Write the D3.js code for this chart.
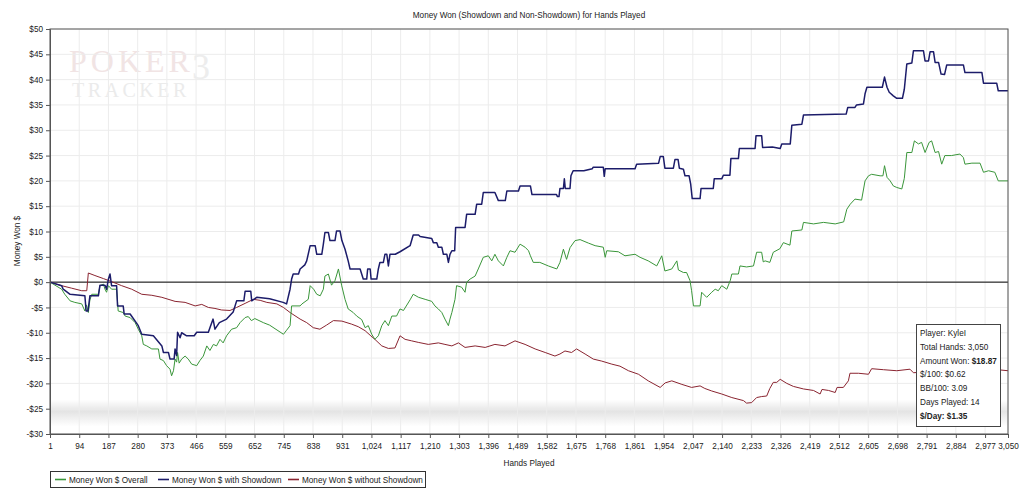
<!DOCTYPE html>
<html>
<head>
<meta charset="utf-8">
<title>Money Won (Showdown and Non-Showdown) for Hands Played</title>
<script src="https://cdn.jsdelivr.net/npm/d3@7"></script>
<style>
  html, body { margin: 0; padding: 0; background: #fff; }
  svg { display: block; font-family: "Liberation Sans", Arial, sans-serif; }
  .axis path, .axis line { stroke: #555; }
  .axis text { font-size: 8.2px; fill: #222; }
</style>
</head>
<body>
<div id="chart"></div>
<script>
// ---- data ----
const xTicks = [1, 94, 187, 280, 373, 466, 559, 652, 745, 838, 931, 1024, 1117, 1210, 1303,
  1396, 1489, 1582, 1675, 1768, 1861, 1954, 2047, 2140, 2233, 2326, 2419, 2512, 2605, 2698,
  2791, 2884, 2977, 3050];
const yTicks = [-30, -25, -20, -15, -10, -5, 0, 5, 10, 15, 20, 25, 30, 35, 40, 45, 50];

const seriesNames = ['Money Won $ Overall', 'Money Won $ with Showdown', 'Money Won $ without Showdown'];

// [hand, dollars]
const overall = [
  [1,0],[38,-1.4],[48,-2.4],[65,-3.7],[80,-4],[102,-4.3],[112,-5.7],[117,-4.5],[123,-6],[128,-3.5],
  [134,-2.4],[155,-2.4],[160,-0.7],[171,-0.4],[176,-1.4],[181,-2],[187,-0.7],[197,-1.4],[213,-1.4],
  [218,-5.7],[234,-6],[240,-6.7],[256,-7],[272,-8],[282,-9.3],[293,-10.6],[298,-12.3],[309,-12.6],
  [325,-13.2],[346,-13.2],[351,-15.2],[362,-15.5],[372,-16.5],[383,-17.2],[388,-18.5],[394,-17.5],
  [399,-15.2],[404,-15.8],[407,-13.9],[412,-16],[420,-15.2],[431,-14.6],[441,-15.2],[452,-16.2],
  [468,-16.5],[478,-15.5],[489,-14.6],[500,-12.6],[510,-13.5],[521,-12.3],[531,-12.6],[542,-11.3],
  [552,-12],[563,-10.6],[579,-9.3],[595,-9],[606,-8],[622,-7],[632,-6.8],[642,-7.6],[653,-7.2],
  [680,-8],[700,-8.5],[744,-10.3],[754,-9.5],[765,-8.6],[770,-4.7],[797,-4.7],[803,-4.3],[823,-3.4],
  [829,-0.7],[840,-1.4],[850,-2.4],[861,-2.7],[871,-1.4],[876,1.2],[887,1.6],[897,-0.6],[908,0.3],
  [919,2.6],[929,-0.6],[940,-3.4],[950,-5.3],[966,-6],[977,-6.7],[993,-7.4],[1004,-9],[1014,-8.6],
  [1025,-10.3],[1035,-11.3],[1046,-10.6],[1057,-8.6],[1067,-7.6],[1078,-8.6],[1089,-6.7],[1104,-6.7],
  [1115,-5.3],[1126,-5.6],[1147,-3.5],[1157,-2.4],[1174,-3],[1195,-3.4],[1216,-3.8],[1226,-4.7],
  [1237,-5.3],[1248,-6],[1258,-7.3],[1269,-8.6],[1274,-7.3],[1280,-6],[1290,-3.4],[1295,-0.7],
  [1311,-1],[1322,-2],[1327,0],[1338,0.6],[1354,1.2],[1364,2.6],[1380,4.9],[1396,5.2],[1407,4.2],
  [1417,5.5],[1428,4.2],[1444,3.2],[1455,4.9],[1465,6.2],[1481,5.9],[1497,7.5],[1513,6.9],[1524,6.2],
  [1530,5.2],[1539,3.9],[1560,3.9],[1587,3.2],[1614,2.6],[1624,3.9],[1635,6.5],[1645,4.5],[1656,6.8],
  [1672,8.2],[1688,8.4],[1715,7.7],[1736,7.2],[1762,6.9],[1768,4.9],[1773,6.2],[1810,6],[1831,5.2],
  [1863,5.5],[1879,4.9],[1905,4.2],[1932,3.2],[1948,5.2],[1958,2.2],[1980,2.6],[1996,4.2],[2001,2.4],
  [2017,1.9],[2027,1.9],[2038,0.3],[2043,-1.7],[2049,-4.7],[2070,-4.7],[2075,-2],[2091,-3],[2107,-2],
  [2118,-1.4],[2128,-1.7],[2139,-0.7],[2155,-1.4],[2166,0.3],[2171,1.6],[2192,1.6],[2197,3.2],
  [2218,3],[2240,3.2],[2250,5.9],[2266,5.9],[2271,4],[2277,4.2],[2292,3.9],[2303,5.9],[2324,6.6],
  [2335,7.8],[2356,7.3],[2362,10.1],[2394,10.3],[2399,11.8],[2431,11.5],[2463,11.8],[2500,11.5],
  [2527,11.9],[2537,14.4],[2548,15.4],[2563,16.4],[2584,16.2],[2595,20],[2606,21],[2616,21.3],
  [2643,21],[2652,21],[2657,23],[2665,20.7],[2675,20],[2685,19],[2696,18.7],[2712,18.4],[2720,20.5],
  [2728,25.6],[2744,25.6],[2752,27.9],[2765,27.3],[2775,27.6],[2786,25.6],[2799,27.6],[2807,27.9],
  [2818,25.6],[2829,25.8],[2839,23.3],[2849,25],[2870,25],[2897,25.3],[2908,24.6],[2913,23.3],
  [2935,23.5],[2961,23.5],[2972,21.7],[2988,22],[3008,21.7],[3019,20],[3050,20]
];

const withShowdown = [
  [1,0],[38,-0.7],[43,-1.4],[65,-2.4],[112,-2.7],[116,-5.7],[122,-5.7],[128,-2.7],[155,-2.7],
  [160,-0.6],[176,-0.6],[181,-1.4],[187,0.6],[192,1.6],[197,-0.7],[213,-0.7],[216,-4.7],[234,-4.7],
  [237,-6.3],[256,-6.3],[282,-8.6],[293,-10.3],[330,-10.6],[357,-12.6],[362,-13.9],[378,-13.9],
  [383,-15.2],[396,-15.2],[399,-13.2],[404,-14.5],[407,-9.9],[415,-11],[420,-10],[436,-10.6],
  [460,-10.6],[468,-9.9],[505,-9.9],[510,-9],[520,-7.3],[526,-9.3],[540,-8],[563,-7.3],[584,-5.9],
  [595,-3.7],[618,-3.7],[622,-1.8],[640,-1.8],[643,-3.7],[659,-3],[700,-3.3],[743,-4],[754,-4.3],
  [765,-1.4],[770,0.6],[775,1.6],[792,1.6],[797,2.6],[812,3.4],[818,4.2],[829,7.2],[845,7.2],
  [850,5.5],[866,5.5],[871,7.5],[876,9.8],[887,9.8],[892,8.2],[908,8.2],[913,10.1],[924,10.1],
  [930,8.2],[940,6.5],[950,4.2],[956,2.6],[988,2.6],[993,1.6],[998,0.6],[1009,0.6],[1012,2.6],
  [1020,2.6],[1023,0.6],[1041,0.6],[1046,2.6],[1051,3.9],[1062,3.9],[1067,5.5],[1073,5.5],[1078,3.2],
  [1083,5.5],[1100,5.5],[1115,6],[1147,7.2],[1157,9.3],[1174,9.3],[1179,9],[1216,8.6],[1221,7.8],
  [1232,7.8],[1237,6.9],[1248,6.9],[1253,5.5],[1264,5.5],[1269,3.9],[1274,5.5],[1280,6.2],[1289,6.2],
  [1292,10.8],[1322,10.8],[1327,13.4],[1354,13.4],[1359,15.4],[1375,15.4],[1380,17.7],[1417,17.7],
  [1428,16.1],[1450,16.1],[1455,18],[1492,18],[1497,19],[1530,19],[1535,17.3],[1613,17.3],[1616,16.9],
  [1621,16.9],[1624,18.5],[1635,18.5],[1638,20.4],[1641,18.5],[1656,18.5],[1659,21],[1666,22],
  [1700,22],[1727,22.4],[1730,22.7],[1762,22.7],[1765,20.9],[1768,22.4],[1863,22.4],[1868,23.3],
  [1938,23.5],[1943,24.8],[1953,24.8],[1958,22.5],[1985,22.5],[1990,24.2],[2000,24.2],[2004,22.5],
  [2017,22.3],[2022,21],[2035,21],[2040,19.4],[2045,16.5],[2070,16.5],[2073,18.5],[2112,18.5],
  [2115,20.4],[2139,20.4],[2144,21.1],[2165,21.1],[2168,24.4],[2192,24.4],[2195,26.4],[2245,26.4],
  [2248,28.9],[2266,28.9],[2269,26.6],[2300,26.7],[2325,26.4],[2330,27.3],[2357,27.3],[2362,31],
  [2394,31.2],[2399,33],[2535,33.2],[2540,34.5],[2563,34.5],[2568,35],[2590,35.2],[2595,37.2],
  [2601,38.5],[2650,38.5],[2657,40.5],[2665,38.5],[2672,37.5],[2685,36.8],[2696,36.3],[2714,36.3],
  [2720,38.1],[2728,43.1],[2744,43.3],[2749,45.7],[2781,45.7],[2786,43.7],[2797,43.7],[2802,45.5],
  [2813,45.5],[2818,43.4],[2829,43.4],[2837,41.1],[2848,41],[2855,42.9],[2908,42.9],[2913,41.4],
  [2967,41.4],[2972,39.3],[3014,39.3],[3019,37.8],[3050,37.8]
];

const withoutShowdown = [
  [1,0],[38,-0.7],[70,-1.2],[102,-1.7],[118,-1.7],[123,1.8],[144,1.3],[171,0.7],[197,0.1],[229,-0.7],
  [261,-1.4],[293,-2.4],[325,-2.6],[357,-3],[399,-3.8],[431,-4],[463,-4.7],[484,-4.4],[505,-5],
  [526,-5.2],[547,-5.5],[574,-5.6],[595,-5],[622,-4.2],[648,-3.4],[670,-3.6],[691,-4],[723,-4.3],
  [744,-5],[765,-6],[797,-7.3],[818,-8],[839,-9],[860,-9.3],[881,-8.5],[903,-7.6],[930,-7.7],
  [961,-8.3],[982,-8.8],[1004,-9.6],[1020,-10.5],[1035,-11.3],[1057,-12.6],[1078,-13.1],[1099,-13],
  [1115,-10.6],[1131,-11.3],[1152,-11.6],[1173,-11.9],[1205,-12.3],[1237,-12],[1258,-12.3],
  [1280,-12.6],[1301,-12],[1322,-12.9],[1354,-12.6],[1386,-12.9],[1417,-12.3],[1449,-12.6],
  [1481,-11.6],[1513,-12.3],[1545,-13.2],[1577,-13.9],[1608,-14.6],[1624,-14.2],[1640,-13.6],
  [1661,-13.9],[1677,-13.2],[1704,-14.2],[1730,-15.2],[1757,-15.6],[1789,-16.2],[1815,-16.6],
  [1842,-17.5],[1874,-18.2],[1905,-19.5],[1943,-20.8],[1959,-19.9],[1980,-19.5],[2012,-20.2],
  [2043,-20.8],[2070,-20.5],[2085,-21],[2107,-21.5],[2139,-22.1],[2171,-22.8],[2208,-23.4],
  [2218,-23.9],[2234,-23.8],[2250,-22.8],[2266,-22.6],[2282,-22.5],[2292,-21],[2303,-19.8],
  [2314,-19.8],[2325,-19.2],[2346,-20],[2367,-20.6],[2399,-21.1],[2431,-21.4],[2452,-22.1],
  [2458,-21.2],[2479,-21.4],[2500,-21.8],[2506,-20.8],[2526,-20.8],[2542,-19.5],[2547,-18],
  [2574,-18],[2606,-18.2],[2616,-17.1],[2654,-17.3],[2696,-17.5],[2738,-17.2],[2749,-17.9],
  [2800,-17.7],[2860,-17.4],[2930,-17.6],[2980,-17.3],[3000,-17.2],[3050,-17.5]
];

const statLines = [
  ['Player: KyleI', ''],
  ['Total Hands: 3,050', ''],
  ['Amount Won: ', '$18.87'],
  ['$/100: $0.62', ''],
  ['BB/100: 3.09', ''],
  ['Days Played: 14', ''],
  ['', '$/Day: $1.35']
];

// ---- layout ----
const width = 1024, height = 500;
const margin = { top: 29, right: 16, bottom: 66, left: 50 };
const plotW = width - margin.left - margin.right;
const plotH = height - margin.top - margin.bottom;
const fontSize = 8.2;

const colors = ['#3a963a', '#1c1c6a', '#8a2430'];
const seriesData = [overall, withShowdown, withoutShowdown];

const svg = d3.select('#chart').append('svg')
  .attr('width', width)
  .attr('height', height);

const x = d3.scaleLinear().domain([1, 3050]).range([0, plotW]);
const y = d3.scaleLinear().domain([-30, 50]).range([plotH, 0]);

const g = svg.append('g')
  .attr('transform', `translate(${margin.left},${margin.top})`);

// faint watermark band near the bottom of the plot
const defs = svg.append('defs');
const band = defs.append('linearGradient')
  .attr('id', 'band').attr('x1', 0).attr('y1', 0).attr('x2', 0).attr('y2', 1);
band.append('stop').attr('offset', '0%').attr('stop-color', '#e4e4e4').attr('stop-opacity', 0);
band.append('stop').attr('offset', '45%').attr('stop-color', '#e4e4e4').attr('stop-opacity', 1);
band.append('stop').attr('offset', '100%').attr('stop-color', '#e4e4e4').attr('stop-opacity', 0);
g.append('rect')
  .attr('x', 0).attr('width', plotW)
  .attr('y', y(-23.2)).attr('height', y(-28.5) - y(-23.2))
  .attr('fill', 'url(#band)');

// PokerTracker logo watermark
const logo = g.append('g').attr('font-family', '"Liberation Serif", "DejaVu Serif", serif');
const poker = logo.append('text')
  .attr('x', 19).attr('y', 43)
  .attr('font-size', 32).attr('letter-spacing', 4)
  .attr('fill', '#f1e4e4')
  .text('POKER');
logo.append('text')
  .attr('x', 19 + poker.node().getComputedTextLength() - 2).attr('y', 50)
  .attr('font-size', 36)
  .attr('fill', '#ededed')
  .text('3');
logo.append('text')
  .attr('x', 22).attr('y', 68)
  .attr('font-size', 20).attr('letter-spacing', 3.5)
  .attr('fill', '#ebebeb')
  .text('TRACKER');

// grid
g.append('g')
  .selectAll('line')
  .data(xTicks)
  .join('line')
  .attr('x1', d => x(d)).attr('x2', d => x(d))
  .attr('y1', 0).attr('y2', plotH)
  .attr('stroke', '#ececec');

g.append('g')
  .selectAll('line')
  .data(yTicks)
  .join('line')
  .attr('x1', 0).attr('x2', plotW)
  .attr('y1', d => y(d)).attr('y2', d => y(d))
  .attr('stroke', '#ececec');

// zero line
g.append('line')
  .attr('x1', 0).attr('x2', plotW)
  .attr('y1', y(0)).attr('y2', y(0))
  .attr('stroke', '#000');

// series lines
const line = d3.line()
  .x(d => x(d[0]))
  .y(d => y(d[1]));

// draw red first, then green, blue on top
[2, 0, 1].forEach(i => {
  g.append('path')
    .datum(seriesData[i])
    .attr('fill', 'none')
    .attr('stroke', colors[i])
    .attr('stroke-width', i === 1 ? 1.5 : 1)
    .attr('stroke-linejoin', 'round')
    .attr('d', line);
});

// frame
g.append('rect')
  .attr('width', plotW).attr('height', plotH)
  .attr('fill', 'none')
  .attr('stroke', '#555');

// axes
const fmtMoney = d => d < 0 ? `-$${-d}` : `$${d}`;

g.append('g')
  .attr('class', 'axis')
  .call(d3.axisLeft(y).tickValues(yTicks).tickSize(4).tickPadding(3).tickFormat(fmtMoney));

g.append('g')
  .attr('class', 'axis')
  .attr('transform', `translate(0,${plotH})`)
  .call(d3.axisBottom(x).tickValues(xTicks).tickSize(4).tickPadding(5).tickFormat(d3.format(',')));

// title and axis labels
svg.append('text')
  .attr('x', margin.left + plotW / 2).attr('y', 18)
  .attr('text-anchor', 'middle')
  .attr('font-size', fontSize).attr('fill', '#222')
  .text('Money Won (Showdown and Non-Showdown) for Hands Played');

svg.append('text')
  .attr('transform', 'translate(20,241) rotate(-90)')
  .attr('text-anchor', 'middle')
  .attr('font-size', fontSize).attr('fill', '#222')
  .text('Money Won $');

svg.append('text')
  .attr('x', margin.left + plotW / 2).attr('y', 466)
  .attr('text-anchor', 'middle')
  .attr('font-size', fontSize).attr('fill', '#222')
  .text('Hands Played');

// legend
const legend = svg.append('g').attr('transform', 'translate(50,471)');
legend.append('rect')
  .attr('x', 0.5).attr('y', 0.5)
  .attr('width', 375).attr('height', 16)
  .attr('fill', '#fff').attr('stroke', '#333');

const legendX = [5, 108, 238];
seriesNames.forEach((name, i) => {
  const item = legend.append('g').attr('transform', `translate(${legendX[i]},8.5)`);
  item.append('line')
    .attr('x1', 0).attr('x2', 11)
    .attr('stroke', colors[i]).attr('stroke-width', 1.6);
  item.append('text')
    .attr('x', 14).attr('y', 3)
    .attr('font-size', fontSize).attr('fill', '#222')
    .text(name);
});

// stats box
const stats = svg.append('g').attr('transform', 'translate(916,324)');
stats.append('rect')
  .attr('x', 0.5).attr('y', 0.5)
  .attr('width', 84).attr('height', 102)
  .attr('fill', '#fff').attr('stroke', '#444');

statLines.forEach((parts, i) => {
  const t = stats.append('text')
    .attr('x', 4).attr('y', 12 + i * 13.8)
    .attr('font-size', fontSize).attr('fill', '#222');
  if (parts[0]) t.append('tspan').text(parts[0]);
  if (parts[1]) t.append('tspan').attr('font-weight', 'bold').text(parts[1]);
});
</script>
</body>
</html>
